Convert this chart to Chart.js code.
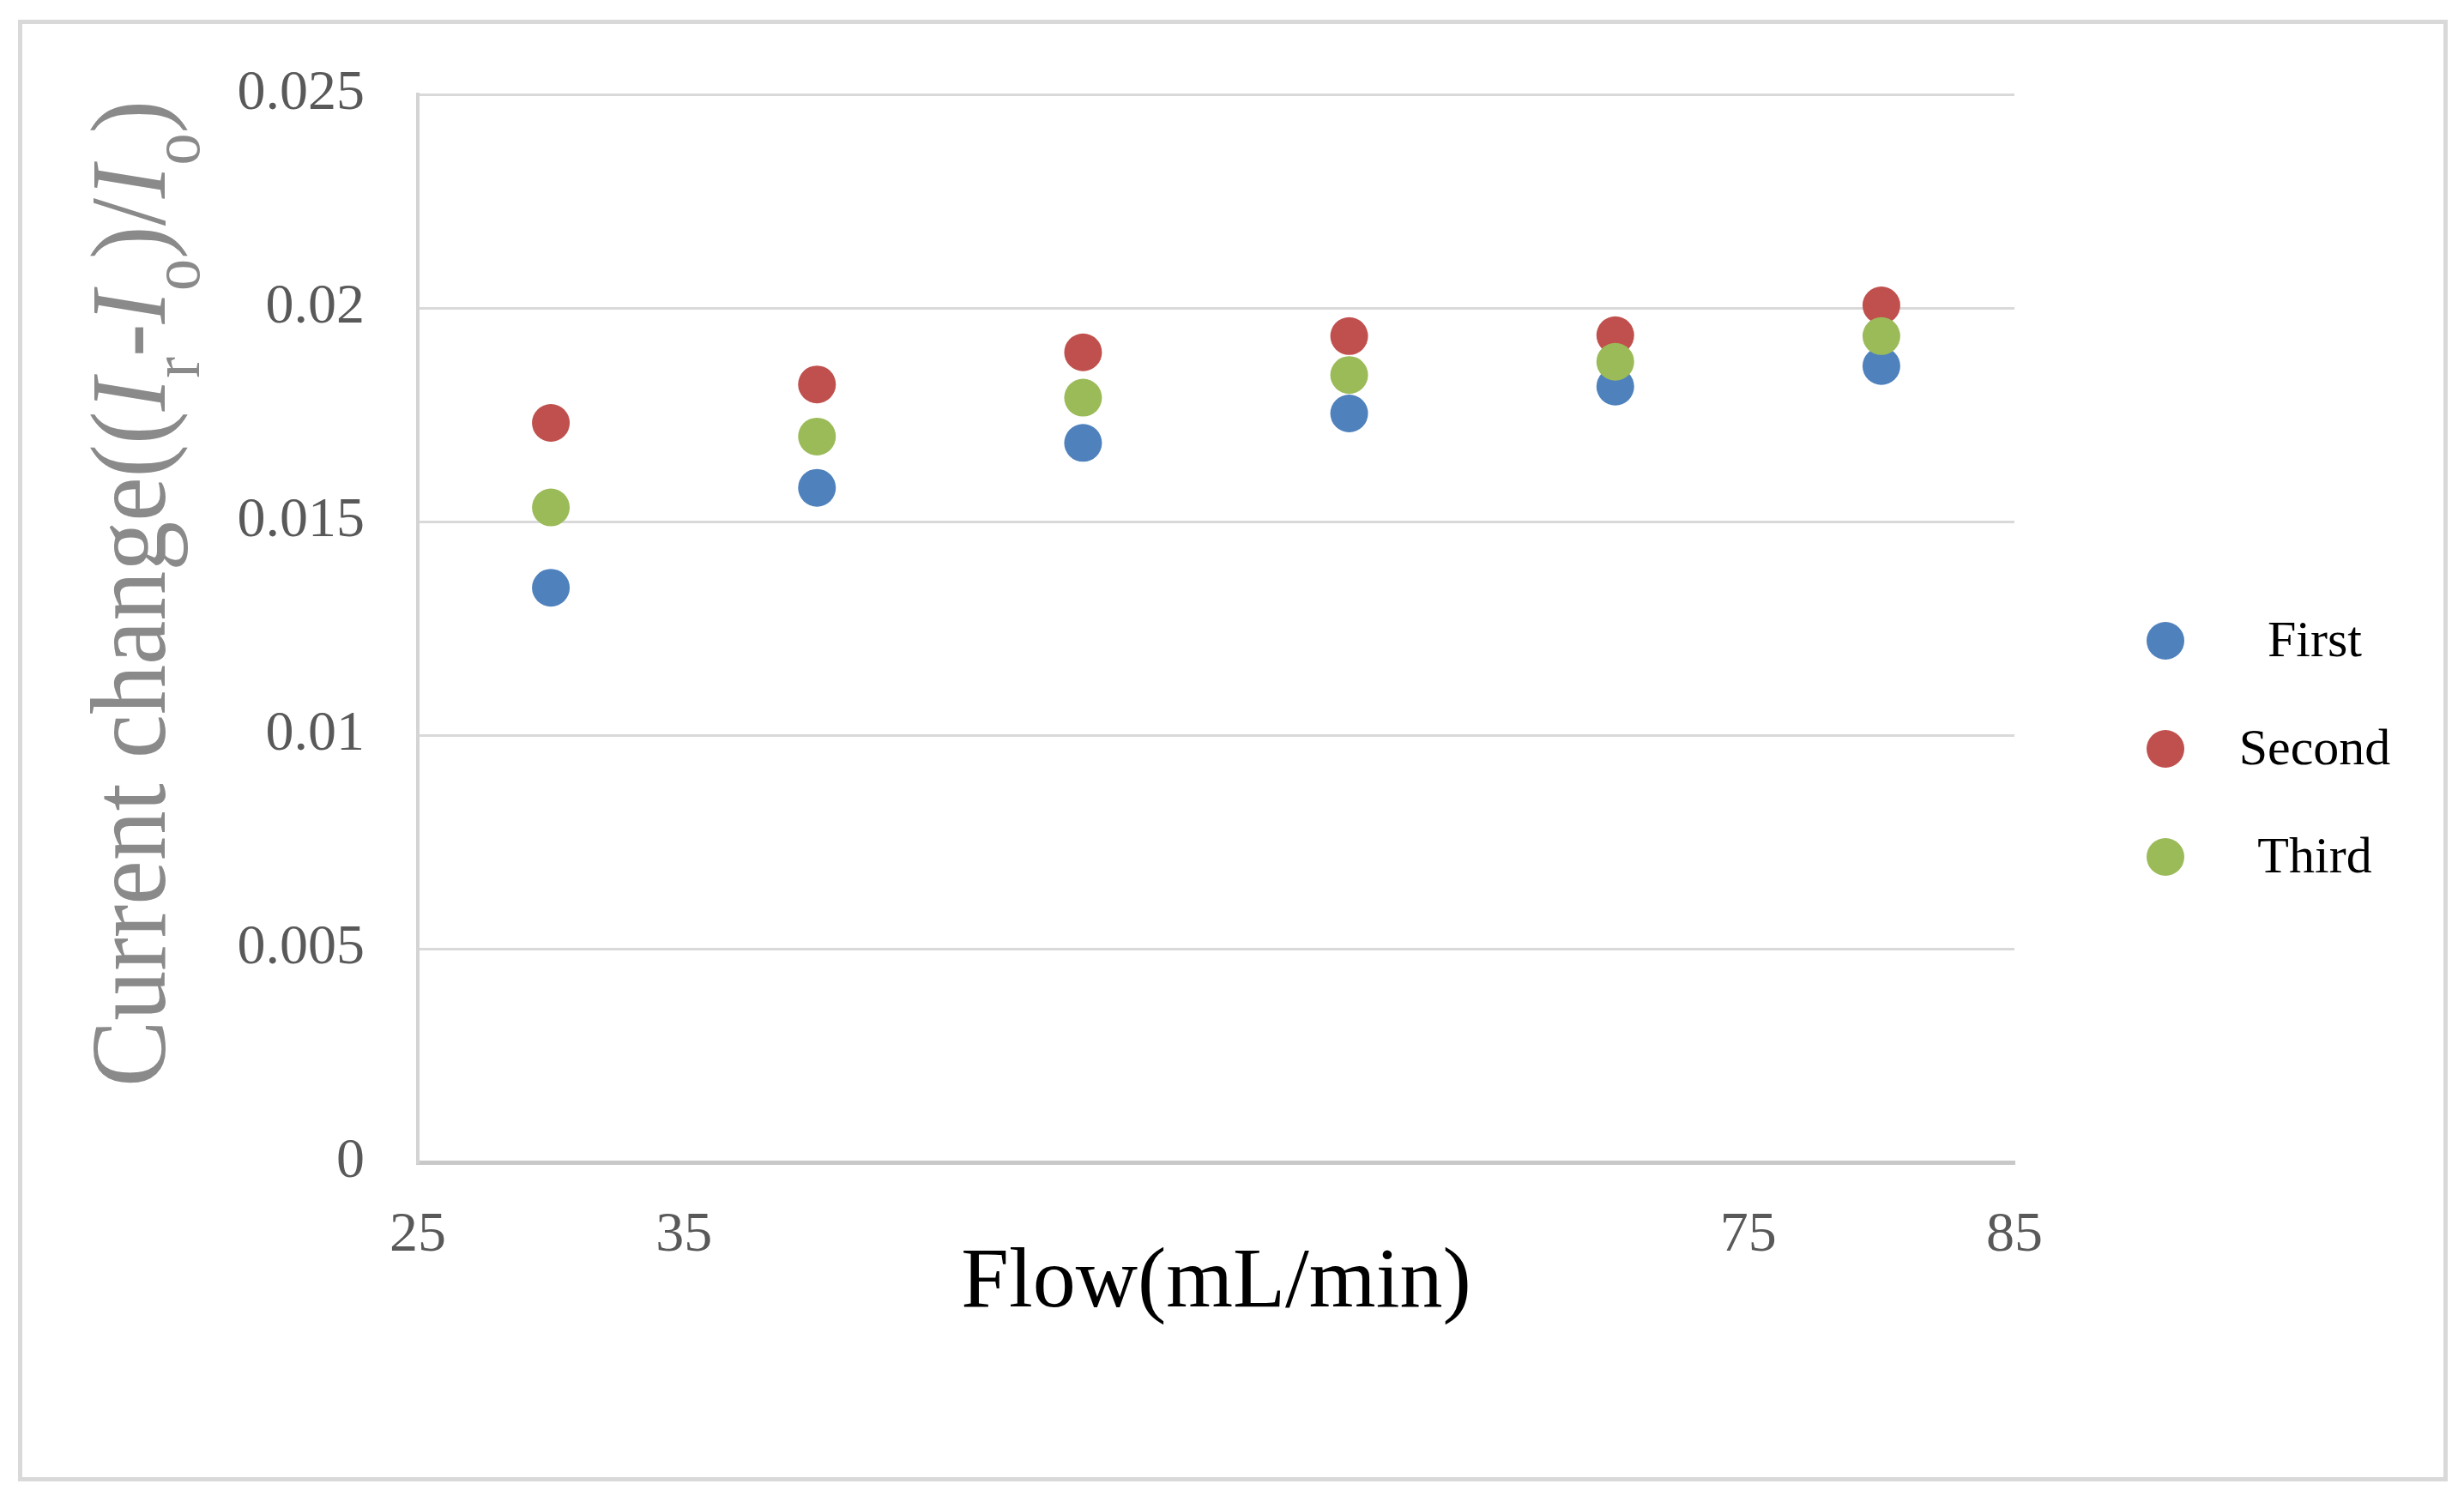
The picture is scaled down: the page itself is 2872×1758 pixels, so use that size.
<!DOCTYPE html>
<html>
<head>
<meta charset="utf-8">
<title>Current change vs Flow</title>
<script src="https://cdn.jsdelivr.net/npm/chart.js"></script>
<style>
  html, body { margin: 0; padding: 0; background: #fff; overflow: hidden; }
  #frame {
    position: absolute; left: 21px; top: 23px; width: 2832px; height: 1704px;
    border: 5px solid #d9d9d9; box-sizing: border-box;
  }
  #container { position: absolute; left: 0; top: 0; width: 2872px; height: 1758px; }
</style>
</head>
<body>
<div id="frame"></div>
<div id="container"><canvas id="chart"></canvas></div>
<script>
// flow rates (mL/min)
const flow = [30, 40, 50, 60, 70, 80];

// (Ir - Io) / Io for each run
const first  = [0.01345, 0.01579, 0.01684, 0.01753, 0.01816, 0.01864];
const second = [0.01731, 0.01821, 0.01896, 0.01934, 0.01936, 0.02006];
const third  = [0.01533, 0.01699, 0.01790, 0.01843, 0.01874, 0.01934];

const seriesNames = ['First', 'Second', 'Third'];
const seriesColors = ['#4f81bd', '#c0504d', '#9bbb59'];

const yTickLabels = ['0', '0.005', '0.01', '0.015', '0.02', '0.025'];
const xShownTicks = [25, 35, 75, 85];

const toPoints = ys => flow.map((x, i) => ({ x: x, y: ys[i] }));

// y title with italic I and subscripts, drawn rotated
const yTitlePlugin = {
  id: 'yTitle',
  afterDraw(chart) {
    const ctx = chart.ctx;
    const main = "125px 'Liberation Serif'";
    const ital = "italic 125px 'Liberation Serif'";
    const sub = "80px 'Liberation Serif'";
    const parts = [
      ['Current change((', main, 0], ['I', ital, 0], ['r', sub, 40],
      ['-', main, 0], ['I', ital, 0], ['o', sub, 40],
      [')/', main, 0], ['I', ital, 0], ['o', sub, 40], [')', main, 0]
    ];
    ctx.save();
    let total = 0;
    parts.forEach(p => { ctx.font = p[1]; total += ctx.measureText(p[0]).width; });
    const s = 1150 / total;
    ctx.translate(192, 1267);
    ctx.rotate(-Math.PI / 2);
    ctx.scale(s, 1);
    ctx.fillStyle = '#8a8a8a';
    ctx.textBaseline = 'alphabetic';
    ctx.textAlign = 'left';
    let x = 0;
    parts.forEach(p => {
      ctx.font = p[1];
      ctx.fillText(p[0], x, p[2]);
      x += ctx.measureText(p[0]).width;
    });
    ctx.restore();
  }
};

// legend on the right, text centred in its column
const sideLegend = {
  id: 'sideLegend',
  afterDraw(chart) {
    const ctx = chart.ctx;
    const area = chart.chartArea;
    ctx.save();
    chart.data.datasets.forEach((ds, i) => {
      const y = 747 + i * 126;
      ctx.beginPath();
      ctx.arc(area.right + 176, y, 22, 0, Math.PI * 2);
      ctx.fillStyle = ds.backgroundColor;
      ctx.fill();
      ctx.font = "60px 'Liberation Serif'";
      ctx.fillStyle = '#000';
      ctx.textAlign = 'center';
      ctx.textBaseline = 'alphabetic';
      ctx.fillText(ds.label, area.right + 350, y + 18);
    });
    ctx.restore();
  }
};

new Chart(document.getElementById('chart'), {
  type: 'scatter',
  data: {
    datasets: [first, second, third].map((ys, i) => ({
      label: seriesNames[i],
      data: toPoints(ys),
      backgroundColor: seriesColors[i],
      borderColor: seriesColors[i],
      borderWidth: 0,
      pointRadius: 22,
      pointHoverRadius: 22,
      order: 3 - i
    }))
  },
  options: {
    responsive: true,
    maintainAspectRatio: false,
    animation: false,
    devicePixelRatio: 1,
    events: [],
    layout: { padding: { top: 110, right: 524, bottom: 0, left: 0 } },
    plugins: {
      legend: { display: false },
      tooltip: { enabled: false }
    },
    scales: {
      x: {
        type: 'linear',
        min: 25,
        max: 85,
        grid: { display: false, drawTicks: false },
        border: { display: true, color: '#c8c8c8', width: 5 },
        ticks: {
          stepSize: 10,
          padding: 46,
          maxRotation: 0,
          color: '#595959',
          font: { family: 'Liberation Serif', size: 66 },
          callback: v => (xShownTicks.includes(v) ? String(v) : '')
        },
        title: {
          display: true,
          text: 'Flow(mL/min)',
          color: '#000',
          font: { family: 'Liberation Serif', size: 100, lineHeight: 1.2 },
          padding: { top: 0, bottom: 201 }
        },
        afterFit: scale => { scale.height = 403; }
      },
      y: {
        min: 0,
        max: 0.025,
        grid: { color: '#d9d9d9', lineWidth: 3, drawTicks: false },
        border: { display: true, color: '#d4d4d4', width: 4 },
        ticks: {
          stepSize: 0.005,
          padding: 62,
          color: '#595959',
          font: { family: 'Liberation Serif', size: 66 },
          callback: (v, i) => yTickLabels[i]
        },
        afterFit: scale => { scale.width = 487; }
      }
    }
  },
  plugins: [yTitlePlugin, sideLegend]
});
</script>
</body>
</html>
